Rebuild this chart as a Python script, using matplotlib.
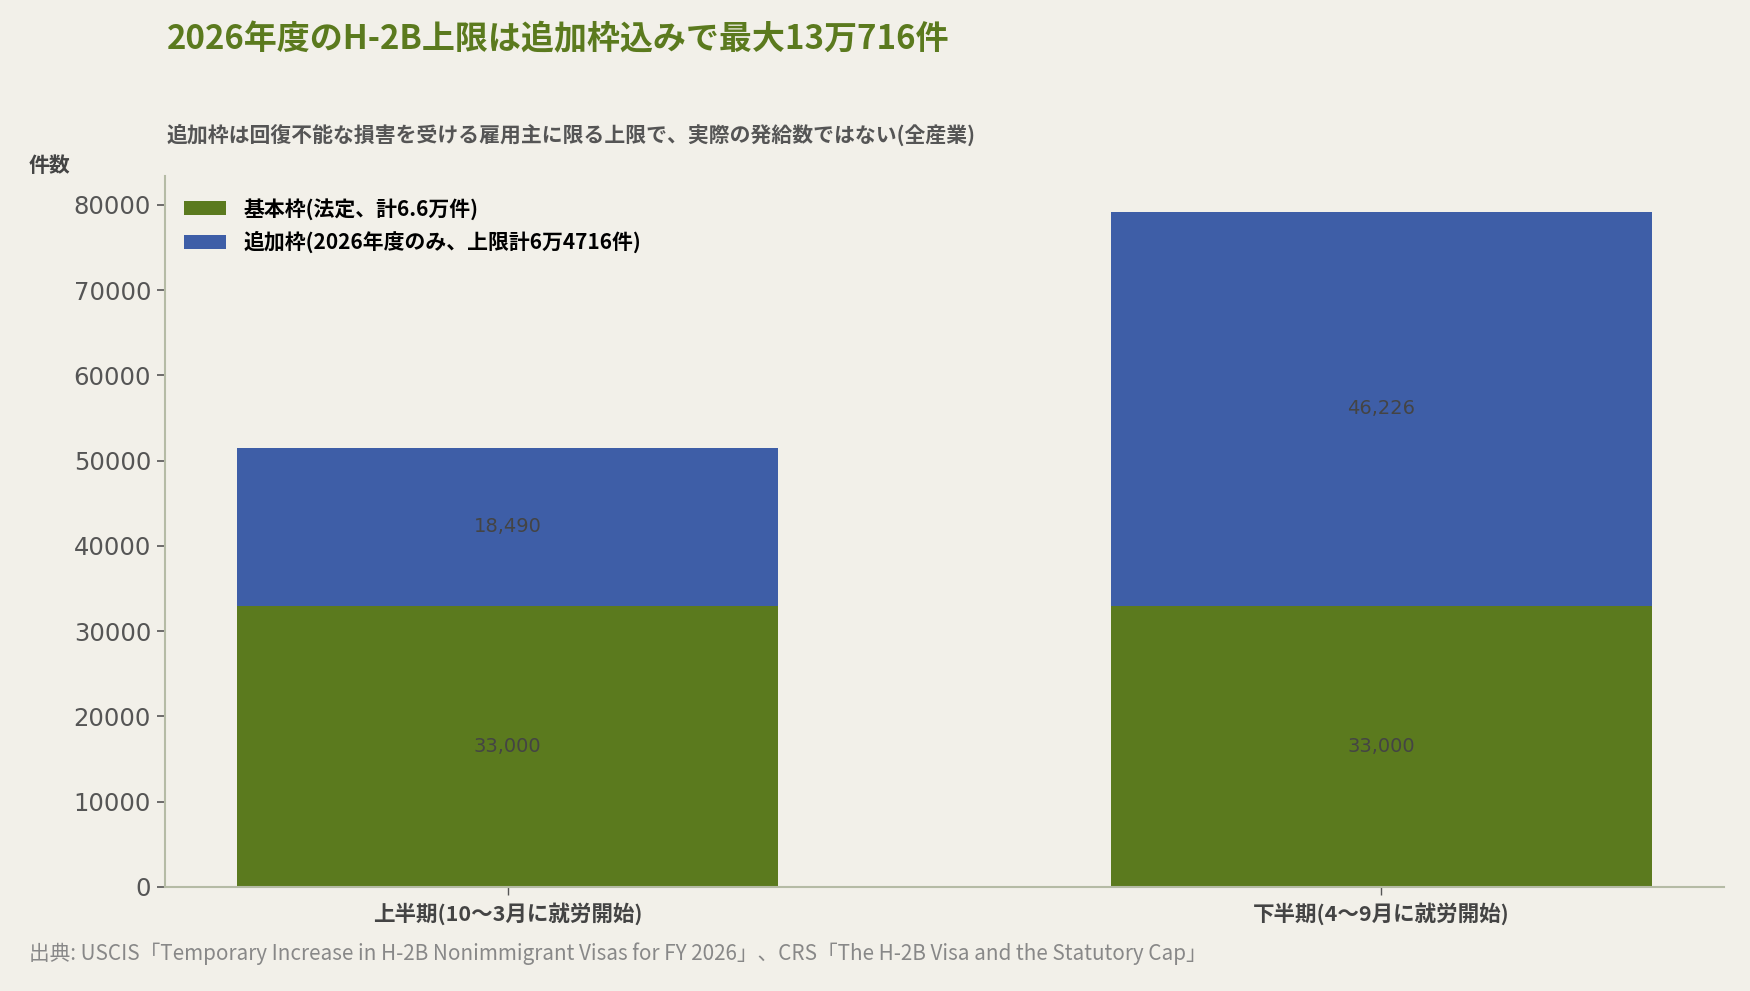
import matplotlib
matplotlib.use("Agg")
import matplotlib.pyplot as plt
import numpy as np

plt.rcParams['font.family'] = ['Noto Sans CJK JP', 'DejaVu Sans']

categories = ["上半期(10〜3月に就労開始)", "下半期(4〜9月に就労開始)"]
base_vals = [33000, 33000]
extra_vals = [18490, 46226]
series_names = ["基本枠(法定、計6.6万件)", "追加枠(2026年度のみ、上限計6万4716件)"]
yticks = [0, 10000, 20000, 30000, 40000, 50000, 60000, 70000, 80000]

title = "2026年度のH-2B上限は追加枠込みで最大13万716件"
subtitle = "追加枠は回復不能な損害を受ける雇用主に限る上限で、実際の発給数ではない(全産業)"
ylabel = "件数"
source = "出典: USCIS「Temporary Increase in H-2B Nonimmigrant Visas for FY 2026」、CRS「The H-2B Visa and the Statutory Cap」"

bg = "#f2f0e9"
green = "#5b7a1e"
blue = "#3e5ea7"

fig = plt.figure(figsize=(17.5, 9.91), dpi=100, facecolor=bg)
ax = fig.add_axes([165/1750, 1 - 887/991, (1724-165)/1750, (887-176)/991])
ax.set_facecolor(bg)

x = np.arange(len(categories))
w = 0.62
ax.bar(x, base_vals, w, color=green, label=series_names[0])
ax.bar(x, extra_vals, w, bottom=base_vals, color=blue, label=series_names[1])

for i in range(len(x)):
    ax.text(x[i], base_vals[i] / 2, f"{base_vals[i]:,}", ha='center', va='center',
            fontsize=14, color='#444444', family='DejaVu Sans')
    ax.text(x[i], base_vals[i] + extra_vals[i] / 2, f"{extra_vals[i]:,}", ha='center', va='center',
            fontsize=14, color='#444444', family='DejaVu Sans')

ax.set_xlim(-0.392, 1.392)
ax.set_ylim(0, 83400)
ax.set_yticks(yticks)
ax.set_yticklabels([str(v) for v in yticks], fontsize=17.5, color='#555555', family='DejaVu Sans')
ax.set_xticks(x)
ax.set_xticklabels(categories, fontsize=15.5, fontweight='bold', color='#444444')
ax.tick_params(axis='y', length=6, width=1.2, color='#555555', pad=4)
ax.tick_params(axis='x', length=6, width=1, color='#555555', pad=5)

for s in ['top', 'right']:
    ax.spines[s].set_visible(False)
for s in ['left', 'bottom']:
    ax.spines[s].set_color('#b5bba5')
    ax.spines[s].set_linewidth(1.5)

leg = ax.legend(loc='upper left', bbox_to_anchor=(0.003, 0.99), frameon=False,
                prop={'size': 15, 'weight': 'bold'}, handlelength=2.0, handleheight=0.7,
                handletextpad=0.85, labelspacing=0.55, borderaxespad=0.3)

fig.text(167/1750, 1 - 40/991, title, fontsize=23.8, fontweight='bold', color=green,
         ha='left', va='center')
fig.text(167/1750, 1 - 135/991, subtitle, fontsize=15, fontweight='bold', color='#555555',
         ha='left', va='center')
fig.text(29/1750, 1 - 166/991, ylabel, fontsize=15, fontweight='bold', color='#444444',
         ha='left', va='center')
fig.text(29/1750, 1 - 954/991, source, fontsize=14.9, color='#888888',
         ha='left', va='center')

fig.savefig("out.png", dpi=100, facecolor=bg)
